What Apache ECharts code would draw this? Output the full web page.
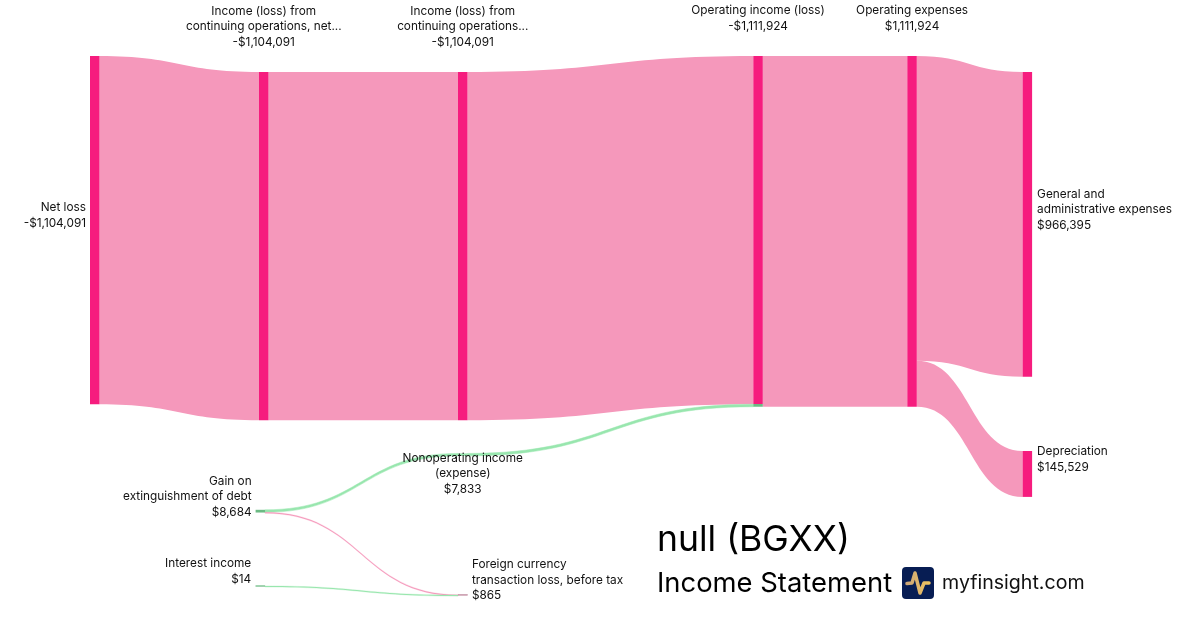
<!DOCTYPE html>
<html>
<head>
<meta charset="utf-8">
<title>null (BGXX) Income Statement</title>
<style>
  html, body { margin: 0; padding: 0; background: #fff; }
  #chart { width: 1200px; height: 630px; }
</style>
<script src="https://cdn.jsdelivr.net/npm/echarts@6/dist/echarts.min.js"></script>
</head>
<body>
<div id="chart"></div>
<script>
// values
const nodeNames = [
  'Net loss',
  'Income (loss) from continuing operations, net',
  'Income (loss) from continuing operations',
  'Operating income (loss)',
  'Operating expenses',
  'General and administrative expenses',
  'Depreciation',
  'Gain on extinguishment of debt',
  'Interest income',
  'Nonoperating income (expense)',
  'Foreign currency transaction loss, before tax',
];
const nodeLabels = [
  'Net loss\n-$1,104,091',
  'Income (loss) from\ncontinuing operations, net...\n-$1,104,091',
  'Income (loss) from\ncontinuing operations...\n-$1,104,091',
  'Operating income (loss)\n-$1,111,924',
  'Operating expenses\n$1,111,924',
  'General and\nadministrative expenses\n$966,395',
  'Depreciation\n$145,529',
  'Gain on\nextinguishment of debt\n$8,684',
  'Interest income\n$14',
  'Nonoperating income\n(expense)\n$7,833',
  'Foreign currency\ntransaction loss, before tax\n$865',
];
const linkSources = [0, 1, 2, 3, 4, 4, 7, 9, 7, 8];
const linkTargets = [1, 2, 3, 4, 5, 6, 9, 3, 10, 10];
const linkValues = [1104091, 1104091, 1104091, 1111924, 966395, 145529, 7833, 7833, 851, 14];
const linkKinds = ['loss', 'loss', 'loss', 'loss', 'loss', 'loss', 'gain', 'gain', 'loss', 'gain'];

// where the source placed its columns and rows (px), they are not evenly spaced
const W = 1200;
const H = 630;
const nodeX = [90, 259, 458, 753.3, 907.3, 1022.6, 1022.6, 255.6, 255.6, 458, 458];
const nodeY = [56, 72, 72, 56, 56, 72, 451, 509.8, 586, 453.4, 594.8];
const nodeDepth = [0, 1, 2, 3, 4, 5, 5, 1, 1, 2, 2];
const labelPos = ['left', 'top', 'top', 'top', 'top', 'right', 'right', 'left', 'left', 'bottom', 'right'];

const PINK = '#f61c7e';
const PINK_LINK = '#f598bb';
const GREEN = '#6cba84';
const GREEN_LINK = '#98e6ae';

const labelOffset = { left: [0, -14.5], right: [0, -14.5], top: [0, -17], bottom: [0, -10.5] };
const labelDistance = { left: 4, right: 5, top: 5, bottom: 5 };

const nodes = nodeNames.map((name, i) => {
  const pos = labelPos[i];
  let color = PINK;
  let itemStyle;
  if (i === 7) color = GREEN;
  if (i === 9) color = GREEN_LINK;
  if (i === 3) {
    // bottom sliver of this node is where the green flow comes in
    color = new echarts.graphic.LinearGradient(0, 0, 0, 1, [
      { offset: 0, color: PINK },
      { offset: 0.993, color: PINK },
      { offset: 0.993, color: GREEN },
      { offset: 1, color: GREEN },
    ]);
  }
  itemStyle = { color };
  // these two are far under a pixel tall, the border keeps them visible
  if (i === 8) itemStyle = { color: GREEN, borderColor: GREEN, borderWidth: 0.8 };
  if (i === 10) itemStyle = { color: '#c08aa0', borderColor: '#c08aa0', borderWidth: 0.8 };
  return {
    name,
    depth: nodeDepth[i],
    localX: nodeX[i] / W,
    localY: nodeY[i] / H,
    itemStyle,
    label: {
      position: pos,
      distance: i === 10 ? 4 : labelDistance[pos],
      offset: labelOffset[pos],
      formatter: nodeLabels[i],
    },
  };
});

const links = linkSources.map((s, i) => {
  const color = linkKinds[i] === 'gain' ? GREEN_LINK : PINK_LINK;
  const v = linkValues[i];
  // thin flows get a hairline so they do not fade out
  const border = v < 1000 ? 0.3 : v < 10000 ? 0.5 : 0;
  return {
    source: nodeNames[s],
    target: nodeNames[linkTargets[i]],
    value: v,
    lineStyle: border
      ? { color, opacity: 1, borderColor: color, borderWidth: border }
      : { color, opacity: 1 },
  };
});

const chart = echarts.init(document.getElementById('chart'), null, { renderer: 'canvas' });
chart.setOption({
  animation: false,
  backgroundColor: '#fff',
  textStyle: { fontFamily: 'Inter' },
  title: [
    { text: 'null (BGXX)', left: 652, top: 517, textStyle: { fontFamily: 'Inter', fontSize: 35.5, fontWeight: 400, color: '#000' } },
    { text: 'Income Statement', left: 652, top: 565, textStyle: { fontFamily: 'Inter', fontSize: 27.4, fontWeight: 400, color: '#000' } },
    { text: 'myfinsight.com', left: 937, top: 568, textStyle: { fontFamily: 'Inter', fontSize: 19.6, fontWeight: 400, color: '#111' } },
  ],
  series: [{
    type: 'sankey',
    left: 0,
    top: 0,
    width: W,
    height: H,
    nodeWidth: 9.5,
    nodeGap: 139.5,
    layoutIterations: 0,
    draggable: false,
    emphasis: { disabled: true },
    label: { show: true, fontFamily: 'Inter', fontSize: 11.8, lineHeight: 15.5, color: '#111' },
    lineStyle: { curveness: 0.5 },
    itemStyle: { borderWidth: 0 },
    data: nodes,
    links,
  }],
  graphic: [
    {
      type: 'group',
      left: 902,
      top: 567,
      children: [
        { type: 'rect', shape: { x: 0, y: 0, width: 32, height: 32, r: 4 }, style: { fill: '#071d53' } },
        {
          type: 'polyline',
          shape: { points: [[5, 16.5], [10, 16], [13, 6], [18, 26], [22, 16], [27, 16]] },
          style: {
            fill: null,
            stroke: new echarts.graphic.LinearGradient(0, 0, 1, 0, [
              { offset: 0, color: '#c9a47a' },
              { offset: 1, color: '#f3c65c' },
            ]),
            lineWidth: 3.5,
            lineJoin: 'round',
            lineCap: 'round',
          },
        },
      ],
    },
  ],
});
</script>
</body>
</html>
